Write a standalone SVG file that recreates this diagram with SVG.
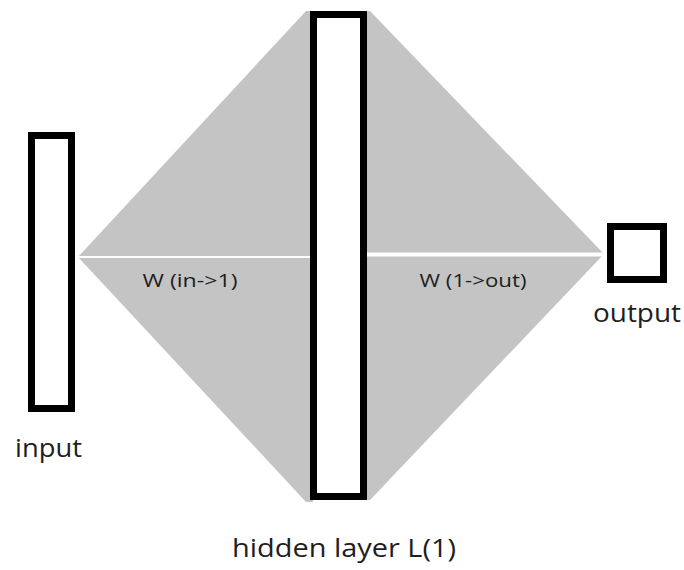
<svg xmlns="http://www.w3.org/2000/svg" width="684" height="570" viewBox="0 0 684 570">
<style>
.layer{fill:#fff;stroke:#000;stroke-width:7}
.fan{fill:#c4c4c4;stroke:none}
.sep{stroke:#fff;fill:none}
.lbl{font-family:"Open Sans","Noto Sans","Liberation Sans",sans-serif;fill:#1e1e1e}
.w{font-size:18px}
.big{font-size:26px}
</style>
<rect width="684" height="570" fill="#fff"/>
<g id="connectors">
<polygon class="fan" points="78,257 306,11 313,11 313,502 306,502"/>
<polygon class="fan" points="362,11 370,11 604,254 370,500 362,500"/>
<line class="sep" x1="78" y1="257" x2="313" y2="257" stroke-width="2"/>
<line class="sep" x1="362" y1="254.5" x2="604" y2="254.5" stroke-width="4"/>
<text class="lbl w" x="190" y="287" text-anchor="middle" textLength="95" lengthAdjust="spacingAndGlyphs">W (in-&gt;1)</text>
<text class="lbl w" x="473" y="287" text-anchor="middle" textLength="107" lengthAdjust="spacingAndGlyphs">W (1-&gt;out)</text>
</g>
<g id="input">
<rect class="layer" x="31.5" y="135.5" width="40" height="273"/>
<text class="lbl big" x="15" y="457" textLength="67" lengthAdjust="spacingAndGlyphs">input</text>
</g>
<g id="hidden">
<rect class="layer" x="313.5" y="14.5" width="50" height="482"/>
<text class="lbl big" x="232" y="557" textLength="224" lengthAdjust="spacingAndGlyphs">hidden layer L(1)</text>
</g>
<g id="output">
<rect class="layer" x="610.5" y="226.5" width="53" height="53"/>
<text class="lbl big" x="593" y="322" textLength="88" lengthAdjust="spacingAndGlyphs">output</text>
</g>
</svg>
